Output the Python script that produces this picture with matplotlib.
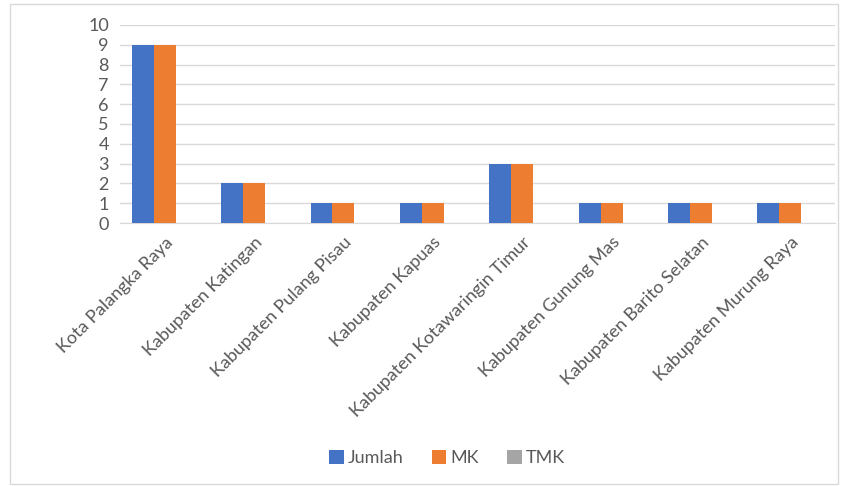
import matplotlib
matplotlib.use("Agg")
import matplotlib.pyplot as plt
import numpy as np
from matplotlib.patches import Rectangle

categories = ["Kota Palangka Raya", "Kabupaten Katingan", "Kabupaten Pulang Pisau",
              "Kabupaten Kapuas", "Kabupaten Kotawaringin Timur", "Kabupaten Gunung Mas",
              "Kabupaten Barito Selatan", "Kabupaten Murung Raya"]
jumlah = [9, 2, 1, 1, 3, 1, 1, 1]
mk = [9, 2, 1, 1, 3, 1, 1, 1]
tmk = [0, 0, 0, 0, 0, 0, 0, 0]
series_names = ["Jumlah", "MK", "TMK"]
colors = ["#4472C4", "#ED7D31", "#A5A5A5"]
yticks = list(range(0, 11))

plt.rcParams['font.family'] = ['Lato', 'DejaVu Sans']

fig = plt.figure(figsize=(8.46, 4.86), dpi=100)
ax = fig.add_axes([120/846, 1-223/486, 715/846, 198/486])

x = np.arange(len(categories))
w = 0.245
for i, (vals, name, c) in enumerate(zip([jumlah, mk, tmk], series_names, colors)):
    ax.bar(x + (i - 1) * w, vals, width=w, color=c, label=name, zorder=3)

ax.set_xlim(-0.5, len(categories) - 0.5)
ax.set_ylim(0, 10)
ax.set_yticks(yticks)
ax.grid(axis='y', color='#D9D9D9', linewidth=1, zorder=0)
for s in ['top', 'right', 'left']:
    ax.spines[s].set_visible(False)
ax.spines['bottom'].set_color('#D9D9D9')
ax.tick_params(axis='both', length=0, colors='#595959')
ax.tick_params(axis='y', pad=8, labelsize=13)
ax.set_xticks(x)
ax.set_xticklabels(categories, rotation=45, ha='right', rotation_mode='anchor', fontsize=13, color='#595959')
ax.tick_params(axis='x', pad=8)

handles, labels = ax.get_legend_handles_labels()
fig.legend(handles, labels, loc='center', bbox_to_anchor=(447/846, 1-458/486), ncol=3,
           frameon=False, fontsize=13, labelcolor='#595959', handlelength=0.8, handleheight=0.8,
           handletextpad=0.2, columnspacing=1.6)

fig.patches.append(Rectangle((10/846, 2/486), 828/846, 480/486, transform=fig.transFigure,
                             fill=False, edgecolor='#D9D9D9', linewidth=1))

fig.savefig("out.png", dpi=100)
